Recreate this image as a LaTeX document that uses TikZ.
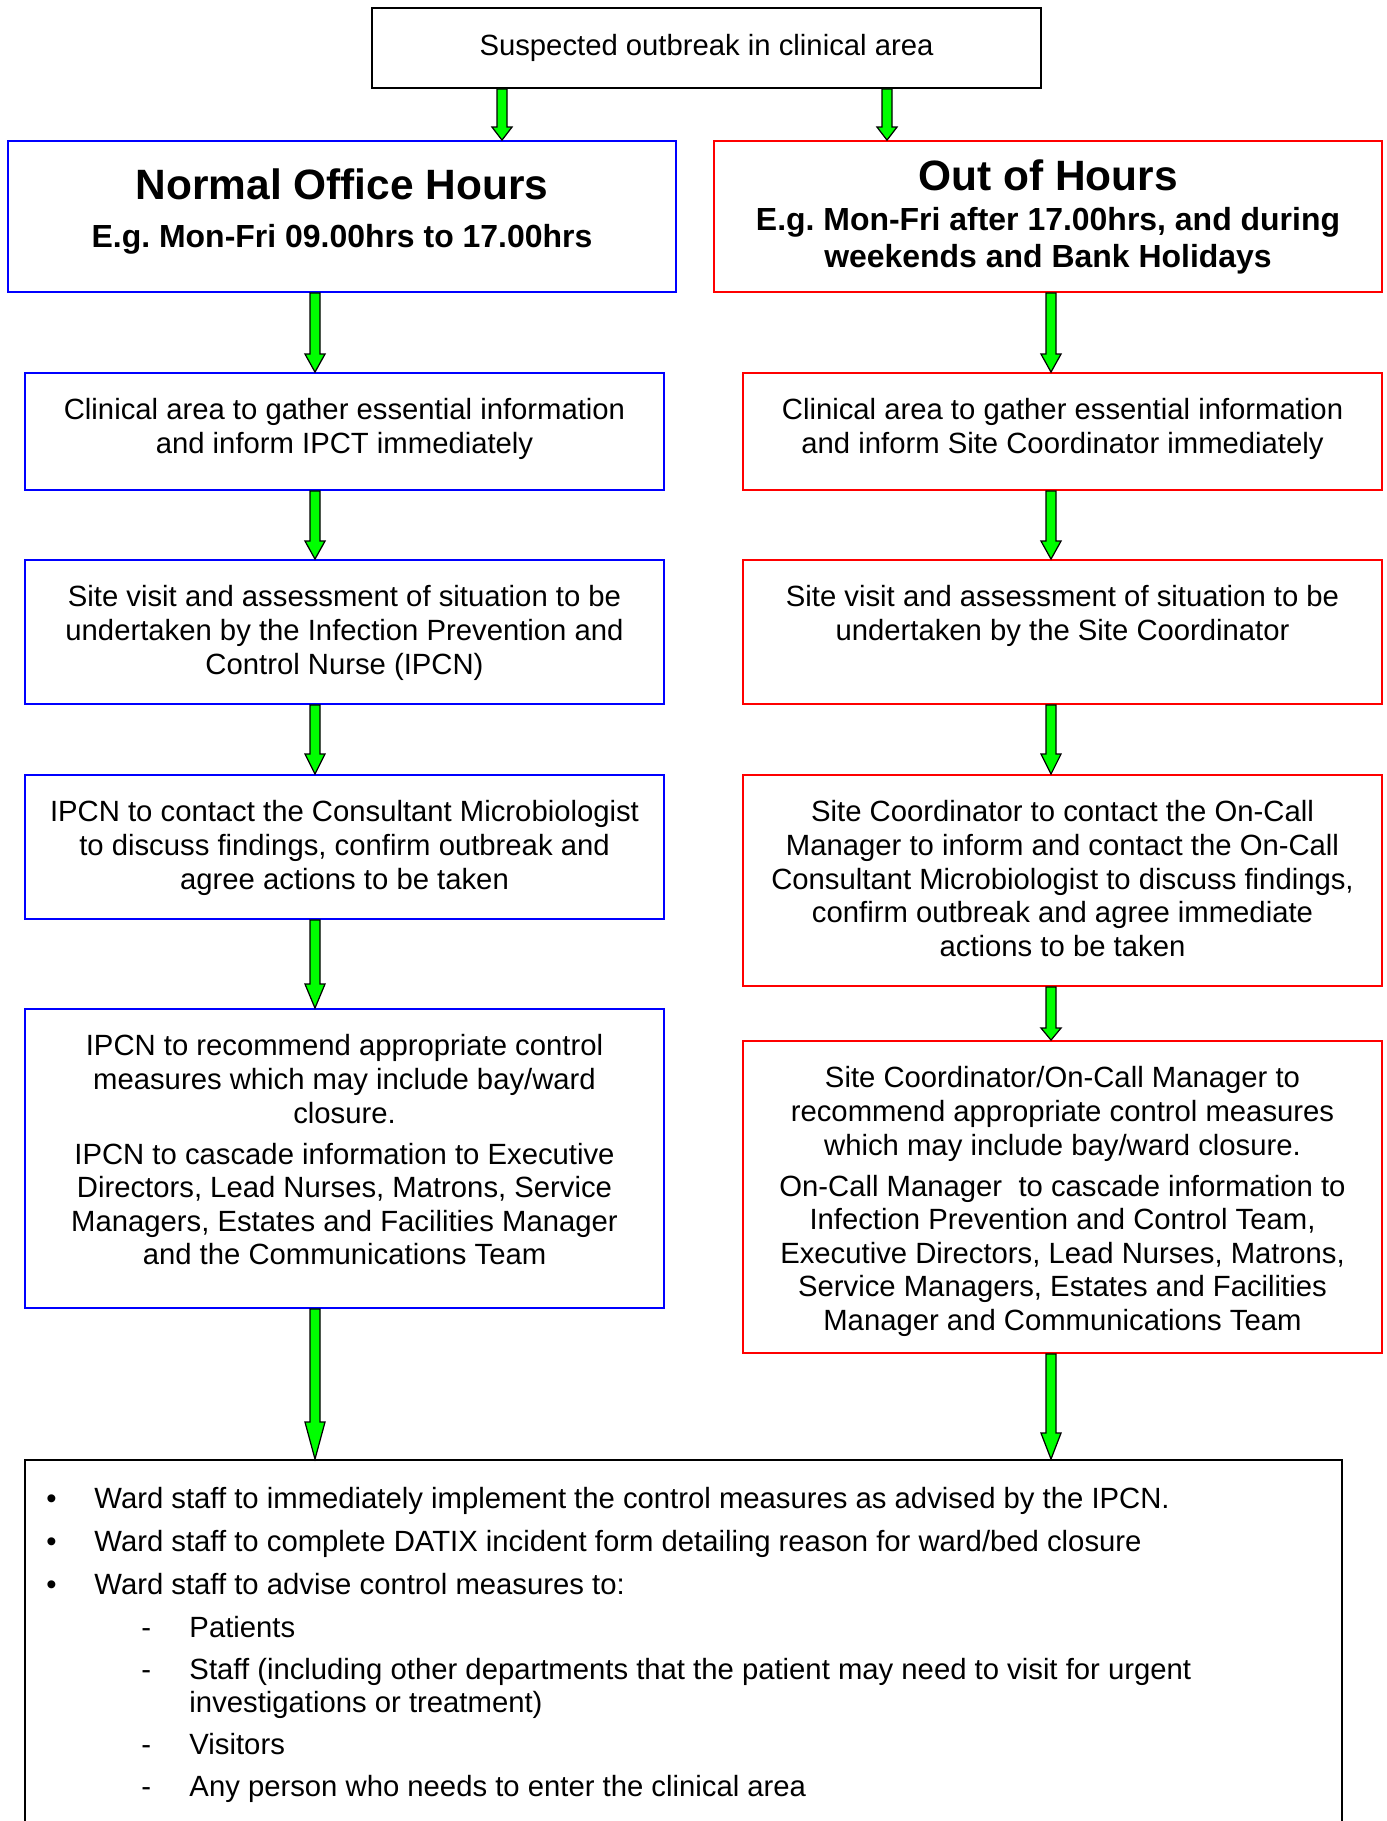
\documentclass[tikz,border=0pt]{standalone}
\usepackage{fontspec}
\setmainfont{Liberation Sans}
\usetikzlibrary{calc}
\frenchspacing
\newcommand{\pxu}{0.41pt}
\newcommand{\greenarrow}[3]{%
  \filldraw[fatarrow] ($(#1)+(-5,0)$) -- ($(#2)+(-5,-#3)$) -- ($(#2)+(-10,-#3)$) -- (#2)
    -- ($(#2)+(10,-#3)$) -- ($(#2)+(5,-#3)$) -- ($(#1)+(5,0)$) -- cycle;}
\tikzset{
  box/.style={draw, line width=0.75pt, inner sep=0pt},
  sidebox/.style={box, minimum width=639*\pxu},
  txt/.style={align=center, inner sep=0pt, font=\fontsize{12}{13.8}\selectfont},
  listtxt/.style={anchor=base west, inner sep=0pt, font=\fontsize{12}{13.8}\selectfont},
  headtxt/.style={anchor=base, inner sep=0pt, font=\bfseries\fontsize{17.4}{20}\selectfont},
  subtxt/.style={align=center, inner sep=0pt, font=\bfseries\fontsize{13.1}{15.2}\selectfont},
  fatarrow/.style={fill=green, draw=black, line width=0.5pt},
}
\begin{document}
\begin{tikzpicture}[x=\pxu,y=-\pxu]
\useasboundingbox (0,0) rectangle (1387,1821);
\clip (0,0) rectangle (1387,1821);
\coordinate (lcol) at (315,0);
\coordinate (rcol) at (1051,0);
\coordinate (lsplit) at (502,0);
\coordinate (rsplit) at (887,0);

\node[box, minimum width=669*\pxu, minimum height=80*\pxu] (start) at (706.5,48) {};
\node[txt, anchor=base] (starttxt) at (706.5,55) {Suspected outbreak in clinical area};

\node[box, draw=blue, minimum width=668*\pxu, minimum height=151*\pxu] (hdl) at (342,216.5) {};
\node[headtxt] (hdltitle) at (342,199) {Normal Office Hours};
\node[subtxt, anchor=base] (hdlsub) at (342,247) {E.g. Mon-Fri 09.00hrs to 17.00hrs};

\node[box, draw=red, minimum width=668*\pxu, minimum height=151*\pxu] (hdr) at (1048,216.5) {};
\node[headtxt] (hdrtitle) at (1048,190) {Out of Hours};
\node[subtxt, anchor=north] (hdrsub) at (1048,206.5) {E.g. Mon-Fri after 17.00hrs, and during\\weekends and Bank Holidays};

\node[sidebox, draw=blue, minimum height=117*\pxu] (l1) at (344.5,431.5) {};
\node[sidebox, draw=blue, minimum height=144*\pxu] (l2) at (344.5,632) {};
\node[sidebox, draw=blue, minimum height=144*\pxu] (l3) at (344.5,847) {};
\node[sidebox, draw=blue, minimum height=299*\pxu] (l4) at (344.5,1158.5) {};
\node[txt, anchor=north] (l1txt) at (344.5,398) {Clinical area to gather essential information\\and inform IPCT immediately};
\node[txt, anchor=north] (l2txt) at (344.5,585) {Site visit and assessment of situation to be\\undertaken by the Infection Prevention and\\Control Nurse (IPCN)};
\node[txt, anchor=north] (l3txt) at (344.5,800) {IPCN to contact the Consultant Microbiologist\\to discuss findings, confirm outbreak and\\agree actions to be taken};
\node[txt, anchor=north] (l4txt) at (344.5,1034) {IPCN to recommend appropriate control\\measures which may include bay/ward\\closure.\\[3pt]IPCN to cascade information to Executive\\Directors, Lead Nurses, Matrons, Service\\Managers, Estates and Facilities Manager\\and the Communications Team};

\node[sidebox, draw=red, minimum height=117*\pxu] (r1) at (1062.5,431.5) {};
\node[sidebox, draw=red, minimum height=144*\pxu] (r2) at (1062.5,632) {};
\node[sidebox, draw=red, minimum height=211*\pxu] (r3) at (1062.5,880.5) {};
\node[sidebox, draw=red, minimum height=312*\pxu] (r4) at (1062.5,1197) {};
\node[txt, anchor=north] (r1txt) at (1062.5,398) {Clinical area to gather essential information\\and inform Site Coordinator immediately};
\node[txt, anchor=north] (r2txt) at (1062.5,585) {Site visit and assessment of situation to be\\undertaken by the Site Coordinator};
\node[txt, anchor=north] (r3txt) at (1062.5,800) {Site Coordinator to contact the On-Call\\Manager to inform and contact the On-Call\\Consultant Microbiologist to discuss findings,\\confirm outbreak and agree immediate\\actions to be taken};
\node[txt, anchor=north] (r4txt) at (1062.5,1066) {Site Coordinator/On-Call Manager to\\recommend appropriate control measures\\which may include bay/ward closure.\\[3pt]On-Call Manager\ \ to cascade information to\\Infection Prevention and Control Team,\\Executive Directors, Lead Nurses, Matrons,\\Service Managers, Estates and Facilities\\Manager and Communications Team};

\node[box, minimum width=1317*\pxu, minimum height=420*\pxu] (ward) at (683.5,1670) {};
\node[listtxt] (dot1) at (46,1508) {•};
\node[listtxt] (item1) at (94,1508) {Ward staff to immediately implement the control measures as advised by the IPCN.};
\node[listtxt] (dot2) at (46,1551) {•};
\node[listtxt] (item2) at (94,1551) {Ward staff to complete DATIX incident form detailing reason for ward/bed closure};
\node[listtxt] (dot3) at (46,1594) {•};
\node[listtxt] (item3) at (94,1594) {Ward staff to advise control measures to:};
\node[listtxt] (dash1) at (141,1637) {-};
\node[listtxt] (sub1) at (189,1637) {Patients};
\node[listtxt] (dash2) at (141,1679) {-};
\node[listtxt] (sub2) at (189,1679) {Staff (including other departments that the patient may need to visit for urgent};
\node[listtxt] (sub2b) at (189,1712) {investigations or treatment)};
\node[listtxt] (dash3) at (141,1754) {-};
\node[listtxt] (sub3) at (189,1754) {Visitors};
\node[listtxt] (dash4) at (141,1796) {-};
\node[listtxt] (sub4) at (189,1796) {Any person who needs to enter the clinical area};

\greenarrow{start.south -| lsplit}{hdl.north -| lsplit}{13}
\greenarrow{start.south -| rsplit}{hdr.north -| rsplit}{13}
\greenarrow{hdl.south -| lcol}{l1.north -| lcol}{18}
\greenarrow{l1.south -| lcol}{l2.north -| lcol}{18}
\greenarrow{l2.south -| lcol}{l3.north -| lcol}{20}
\greenarrow{l3.south -| lcol}{l4.north -| lcol}{24}
\greenarrow{l4.south -| lcol}{ward.north -| lcol}{37}
\greenarrow{hdr.south -| rcol}{r1.north -| rcol}{18}
\greenarrow{r1.south -| rcol}{r2.north -| rcol}{18}
\greenarrow{r2.south -| rcol}{r3.north -| rcol}{20}
\greenarrow{r3.south -| rcol}{r4.north -| rcol}{12}
\greenarrow{r4.south -| rcol}{ward.north -| rcol}{26}
\end{tikzpicture}
\end{document}
